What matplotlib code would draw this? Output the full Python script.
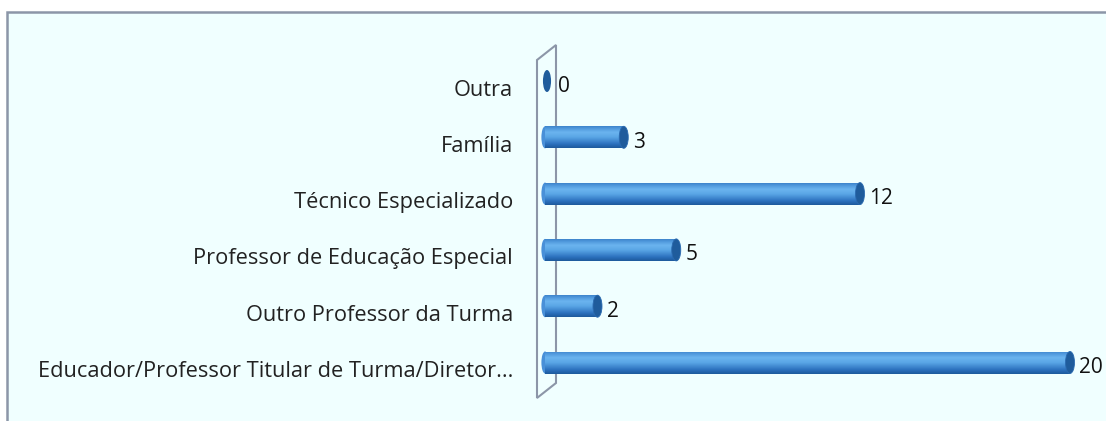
import matplotlib
matplotlib.use("Agg")
import matplotlib.pyplot as plt
import numpy as np
from matplotlib.patches import Ellipse, Polygon, Rectangle
from matplotlib.colors import LinearSegmentedColormap

categories = ["Educador/Professor Titular de Turma/Diretor...",
              "Outro Professor da Turma",
              "Professor de Educação Especial",
              "Técnico Especializado",
              "Família",
              "Outra"]
values = [20, 2, 5, 12, 3, 0]

W, H = 1106, 421
fig = plt.figure(figsize=(W / 100, H / 100), dpi=100)
fig.patch.set_facecolor("white")

# background panel with border
bg = fig.add_axes([0, 0, 1, 1])
bg.set_xlim(0, W); bg.set_ylim(H, 0); bg.axis("off")
bg.add_patch(Rectangle((7, 12), W + 20, H + 20, facecolor="#F0FFFF",
                       edgecolor="#8C96A8", linewidth=1.8))

# plotting axes mapped onto the pixel layout of the reference
px_per_unit = 26.25
x0_px = 545
sp = 56.3
y_top_cat = 81.0
ax = fig.add_axes([0, 0, 1, 1])
ax.set_xlim((0 - x0_px) / px_per_unit, (W - x0_px) / px_per_unit)
ax.set_ylim(5 - (H - y_top_cat) / sp, 5 + y_top_cat / sp)
ax.axis("off")

u = 1 / px_per_unit
def yd(py):
    return 5 + (y_top_cat - py) / sp
def xd(px):
    return (px - x0_px) * u

# 3D back wall
wall = Polygon([(xd(537), yd(60)), (xd(556), yd(45)),
                (xd(556), yd(383)), (xd(537), yd(398))],
               closed=True, facecolor="none", edgecolor="#8C96A8", linewidth=1.5, zorder=1)
ax.add_patch(wall)

cmap = LinearSegmentedColormap.from_list(
    "cyl", [(0.0, "#1D5A9C"), (0.18, "#2C71BE"), (0.5, "#5AA6E6"),
            (0.72, "#6BB4EF"), (0.9, "#4F98DC"), (1.0, "#3E84CC")])
grad = np.linspace(0, 1, 64).reshape(-1, 1)

bar_h = 22 / sp
cap_w = 9 * u
lab_font = 15.7
val_font = 15
for i, (cat, v) in enumerate(zip(categories, values)):
    y = i
    if v > 0:
        left = xd(545)
        right = v
        clip = Rectangle((left, y - bar_h / 2), right - left, bar_h,
                         facecolor="none", edgecolor="none")
        ax.add_patch(clip)
        im = ax.imshow(grad, cmap=cmap, aspect="auto",
                       extent=(left, right, y - bar_h / 2, y + bar_h / 2),
                       origin="lower", zorder=3, interpolation="bilinear")
        im.set_clip_path(clip)
        ax.add_patch(Ellipse((left, y), cap_w * 0.8, bar_h, facecolor="#4990D8",
                             edgecolor="none", zorder=2.9))
        ax.add_patch(Ellipse((right, y), cap_w, bar_h, facecolor="#1F5C9C",
                             edgecolor="#2A6AB0", linewidth=0.6, zorder=4))
        ax.text(right + 9 * u, y - 5 / sp, str(v), ha="left", va="center",
                fontsize=val_font, family="Open Sans", color="#111111")
    else:
        ax.add_patch(Ellipse((xd(547), y), cap_w * 0.9, bar_h,
                             facecolor="#1F5C9C", edgecolor="none", zorder=4))
        ax.text(xd(558), y - 5 / sp, str(v), ha="left", va="center",
                fontsize=val_font, family="Open Sans", color="#111111")
    ax.text(xd(513), y - 9 / sp, cat, ha="right", va="center",
            fontsize=lab_font, family="Open Sans", color="#222222")

fig.savefig("out.png", dpi=100, facecolor="white")
